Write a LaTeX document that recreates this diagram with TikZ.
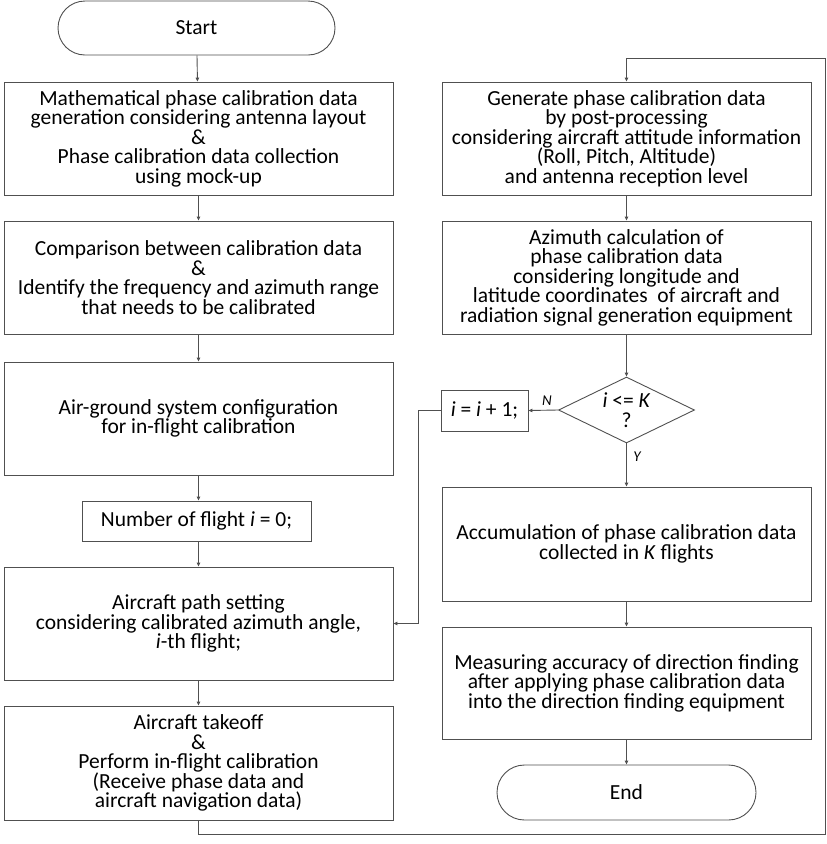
\documentclass[tikz,border=0pt]{standalone}
\usepackage{fontspec}
\setmainfont{Carlito}
\usetikzlibrary{shapes.geometric,shapes.misc,arrows.meta}
\definecolor{lc}{RGB}{80,80,80}
\begin{document}
\begin{tikzpicture}[x=1pt,y=-1pt,
  box/.style={draw=lc, line width=0.9pt, align=center, inner sep=0pt,
    font=\fontsize{21.5}{19.5}\selectfont},
  term/.style={box, rounded rectangle},
  arr/.style={draw=lc, line width=0.9pt, -{Triangle[length=4pt,width=3.5pt]}},
  lbl/.style={font=\fontsize{15}{16}\selectfont\itshape, inner sep=0pt}]
\useasboundingbox (0,0) rectangle (827,844);

% left column
\node[term, minimum width=277pt, minimum height=54pt] (start) at (196.5,28) {Start};
\node[box, minimum width=389pt, minimum height=113pt] (b1) at (198.5,138.5)
  {Mathematical phase calibration data\\generation considering antenna layout\\\&\\Phase calibration data collection\\using mock-up};
\node[box, minimum width=389pt, minimum height=113pt] (b2) at (198.5,277.5)
  {Comparison between calibration data\\\&\\Identify the frequency and azimuth range\\that needs to be calibrated};
\node[box, minimum width=389pt, minimum height=113pt] (b3) at (198.5,418.5)
  {Air-ground system configuration\\for in-flight calibration};
\node[box, minimum width=229pt, minimum height=40pt] (b4) at (196.5,521)
  {Number of flight \textit{i} = 0;};
\node[box, minimum width=389pt, minimum height=113pt] (b5) at (198.5,623.5)
  {Aircraft path setting\\considering calibrated azimuth angle,\\\textit{i}-th flight;};
\node[box, minimum width=389pt, minimum height=114pt] (b6) at (198.5,763)
  {Aircraft takeoff\\\&\\Perform in-flight calibration\\(Receive phase data and\\aircraft navigation data)};

% right column
\node[box, minimum width=369pt, minimum height=113pt] (r1) at (626.5,138.5)
  {Generate phase calibration data\\by post-processing\\considering aircraft attitude information\\(Roll, Pitch, Altitude)\\and antenna reception level};
\node[box, minimum width=369pt, minimum height=113pt] (r2) at (626.5,277.5)
  {Azimuth calculation of\\phase calibration data\\considering longitude and\\latitude coordinates\ \ of aircraft and\\radiation signal generation equipment};
\node[box, diamond, aspect=2, minimum width=136pt, minimum height=66pt] (dia) at (626.5,410)
  {\textit{i} <= \textit{K}\\?};
\node[box, minimum width=87pt, minimum height=41pt] (inc) at (484.5,410.5)
  {\textit{i} = \textit{i} + 1;};
\node[box, minimum width=369pt, minimum height=114pt] (r3) at (626.5,544)
  {Accumulation of phase calibration data\\collected in \textit{K} flights};
\node[box, minimum width=369pt, minimum height=112pt] (r4) at (626.5,683)
  {Measuring accuracy of direction finding\\after applying phase calibration data\\into the direction finding equipment};
\node[term, minimum width=259pt, minimum height=55pt] (end) at (626.5,792.5) {End};

% labels
\node[lbl] (ln) at (547,401) {N};
\node[lbl] (ly) at (637,457) {Y};

% connectors
\draw[arr] (start) -- (b1);
\draw[arr] (b1) -- (b2);
\draw[arr] (b2) -- (b3);
\draw[arr] (b3.south) -- (b4.north -| b3.south);
\draw[arr] (b4.south -| b5.north) -- (b5.north);
\draw[arr] (b5) -- (b6);

\coordinate (c1) at (198.5,834);
\coordinate (c2) at (825,834);
\coordinate (c3) at (825,58);
\coordinate (c4) at (626.5,58);
\draw[arr] (b6.south) -- (c1) -- (c2) -- (c3) -- (c4) -- (r1.north);

\draw[arr] (r1) -- (r2);
\draw[arr] (r2) -- (dia);
\draw[arr] (dia.west) -- (inc.east);
\draw[arr] (dia.south) -- (r3.north);
\draw[arr] (r3) -- (r4);
\draw[arr] (r4) -- (end);

\coordinate (d1) at (418,410.5);
\coordinate (d2) at (418,623.5);
\draw[arr] (inc.west) -- (d1) -- (d2) -- (b5.east);
\end{tikzpicture}
\end{document}
